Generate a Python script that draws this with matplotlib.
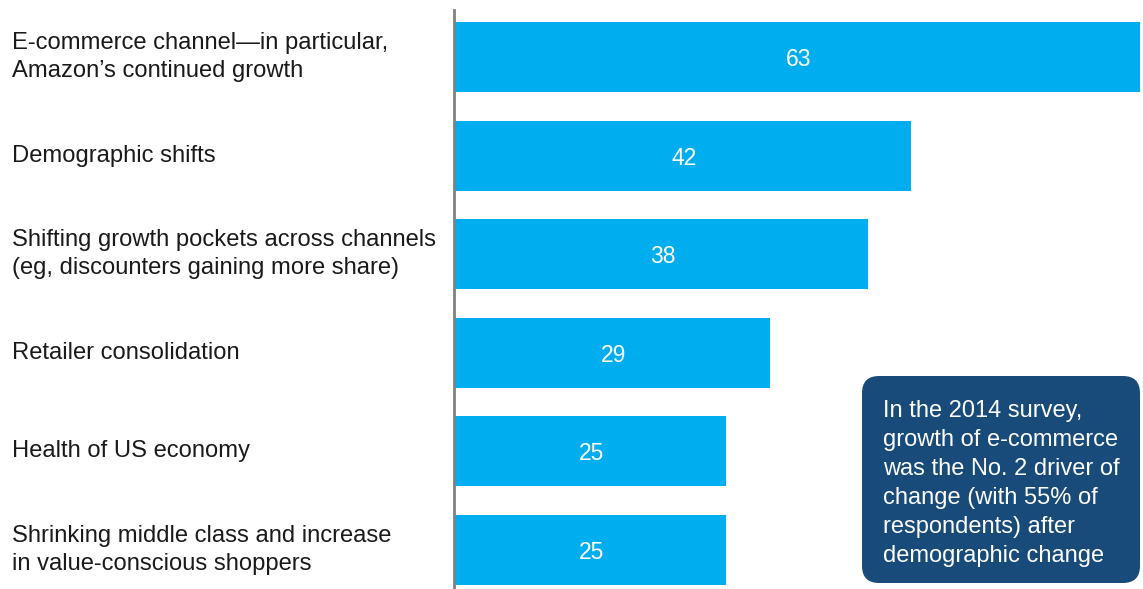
import matplotlib.pyplot as plt
import matplotlib.transforms as mtransforms
from matplotlib.patches import FancyBboxPatch

plt.rcParams['font.family'] = ['Liberation Sans', 'DejaVu Sans']

labels = [
    'E-commerce channel\u2014in particular,\nAmazon\u2019s continued growth',
    'Demographic shifts',
    'Shifting growth pockets across channels\n(eg, discounters gaining more share)',
    'Retailer consolidation',
    'Health of US economy',
    'Shrinking middle class and increase\nin value-conscious shoppers',
]
values = [63, 42, 38, 29, 25, 25]
note = ('In the 2014 survey,\ngrowth of e-commerce\nwas the No. 2 driver of\n'
        'change (with 55% of\nrespondents) after\ndemographic change')

W, H = 1143, 589
fig = plt.figure(figsize=(W / 100, H / 100), dpi=100)
ax = fig.add_axes([454 / W, 0, 1 - 454 / W, 1 - 10 / H])

ypos = list(range(len(values)))
ax.barh(ypos, values, height=0.71, color='#00AEEF')
ax.set_xlim(0, 63.3)
ax.set_ylim(5.396, -0.477)

for y, v in zip(ypos, values):
    ax.text(v / 2 + 0.15, y, str(v), color='white', fontsize=16.5,
            ha='center', va='center_baseline')

# category labels: x in figure coords, y in data coords
trans = mtransforms.blended_transform_factory(fig.transFigure, ax.transData)
for y, lab in zip(ypos, labels):
    ax.text(12 / W, y, lab, transform=trans, fontsize=17.1,
            color='#1a1a1a', ha='left', va='center', linespacing=1.33)

ax.set_xticks([])
ax.set_yticks([])
for s in ['top', 'right', 'bottom']:
    ax.spines[s].set_visible(False)
ax.spines['left'].set_color('#808080')
ax.spines['left'].set_linewidth(2)

box = FancyBboxPatch((862 / W, 6 / H), 278 / W, 207 / H,
                     boxstyle='round,pad=0,rounding_size=0.015',
                     transform=fig.transFigure, facecolor='#184A7A',
                     edgecolor='none', mutation_aspect=W / H)
fig.patches.append(box)
fig.text(883 / W, 1 - 400 / H, note, color='white', fontsize=17,
         ha='left', va='top', linespacing=1.41)

fig.savefig('out.png', dpi=100)
